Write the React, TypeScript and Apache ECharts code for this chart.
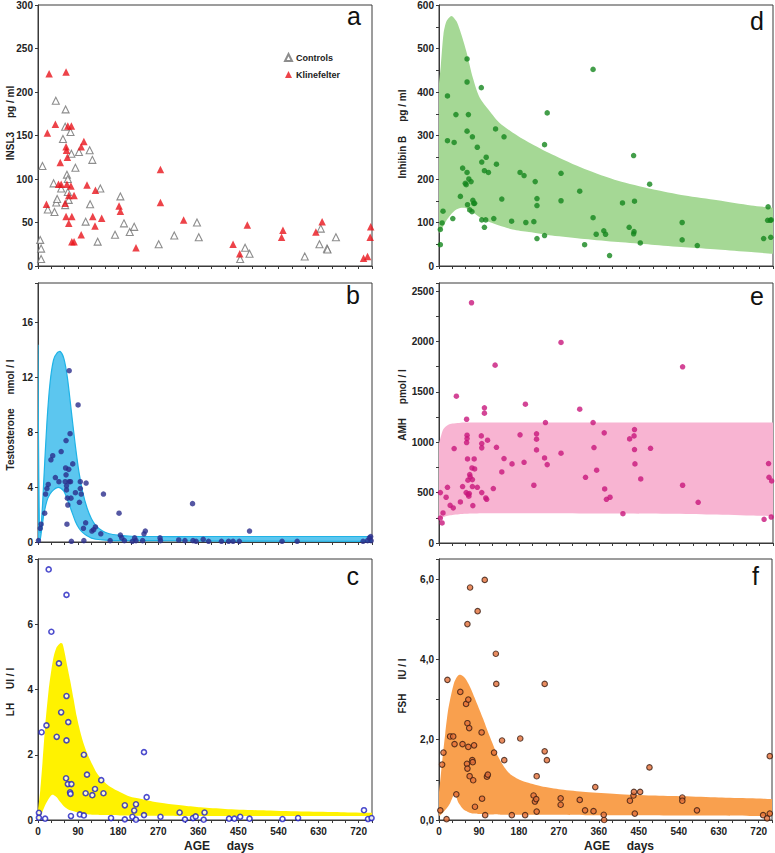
import React, { useEffect, useRef } from "react";
import * as echarts from "echarts";

const FONT = "'Liberation Sans', Arial, sans-serif";
const X_MAX = 750;

// ---- Panel a: INSL3 (pg/ml)
const insl3Controls: number[][] = [
  [5, 30], [7, 20], [7, 8], [10, 115], [22, 65], [35, 95], [37, 62], [40, 190], [41, 73], [43, 77],
  [52, 89], [56, 146], [62, 180], [61, 160], [61, 70], [65, 105], [67, 100], [67, 85], [69, 76], [73, 154],
  [75, 129], [84, 113], [92, 131], [107, 51], [116, 133], [117, 71], [122, 122], [134, 28], [140, 89], [173, 36],
  [185, 80], [193, 49], [206, 39], [216, 45], [271, 25], [306, 35], [357, 50], [361, 33], [454, 8], [465, 21],
  [475, 14], [599, 11], [632, 25], [635, 43], [649, 20], [650, 19], [669, 33],
];
const insl3Klinefelter: number[][] = [
  [19, 71], [21, 153], [25, 221], [39, 163], [46, 94], [50, 119], [52, 94], [61, 72], [63, 57], [63, 223],
  [63, 137], [64, 133], [65, 94], [66, 125], [67, 161], [69, 81], [69, 49], [75, 161], [74, 92], [76, 57],
  [76, 28], [81, 81], [81, 28], [97, 137], [103, 143], [97, 36], [110, 93], [123, 57], [128, 46], [129, 87],
  [143, 55], [182, 69], [185, 63], [220, 21], [275, 111], [275, 73], [327, 53], [438, 25], [453, 14], [470, 47],
  [547, 33], [550, 41], [624, 39], [638, 51], [731, 9], [740, 11], [746, 33], [747, 45],
];

// ---- Panel b: Testosterone (nmol/l)
const testosterone: number[][] = [
  [1, 0.1], [5, 1.0], [7, 1.3], [15, 2.1], [17, 3.5], [20, 3.9], [23, 4.2], [29, 6.0], [33, 6.3], [39, 4.7],
  [47, 4.4], [52, 6.6], [63, 7.4], [62, 5.4], [63, 4.9], [61, 4.4], [64, 4.1], [64, 3.8], [66, 3.2], [67, 2.7],
  [65, 1.3], [70, 12.5], [69, 5.3], [70, 4.4], [72, 7.9], [73, 4.4], [74, 3.2], [75, 0.05], [78, 5.7], [84, 3.6],
  [90, 10.0], [93, 2.9], [95, 4.4], [95, 3.9], [97, 3.5], [102, 1.0], [103, 0.1], [107, 1.4], [108, 4.3], [121, 0.8],
  [125, 0.9], [129, 1.1], [141, 0.6], [147, 3.5], [162, 0.1], [182, 2.1], [185, 0.5], [188, 0.3], [194, 0.1], [212, 0.05],
  [217, 0.3], [220, 0.1], [235, 0.1], [238, 0.6], [241, 0.8], [274, 0.3], [275, 0.1], [316, 0.15], [330, 0.1], [347, 2.8],
  [348, 0.1], [355, 0.05], [371, 0.2], [383, 0.05], [412, 0.05], [428, 0.05], [438, 0.05], [452, 0.05], [475, 0.8], [548, 0.05],
  [582, 0.05], [730, 0.05], [740, 0.1], [744, 0.3], [747, 0.4], [748, 0.1],
];
const tBandDays = [0, 1, 3, 5, 7, 10, 13, 20, 27, 35, 43, 50, 58, 66, 75, 84, 92, 100, 110, 120, 130, 145, 160, 180, 210, 260, 350, 500, 750];
const tBandHi = [14.4, 8, 1.5, 0.7, 1.2, 2.6, 4.5, 8.7, 11.6, 13.3, 13.8, 13.9, 13.4, 12.0, 9.5, 7.0, 5.1, 3.7, 2.5, 1.7, 1.2, 0.8, 0.6, 0.5, 0.42, 0.4, 0.4, 0.4, 0.4];
const tBandLo = [0, 0, 0.1, 0.2, 0.6, 1.3, 2.0, 3.0, 3.5, 3.8, 3.97, 3.95, 3.7, 3.1, 2.3, 1.5, 1.0, 0.7, 0.45, 0.28, 0.2, 0.15, 0.12, 0.1, 0.1, 0.1, 0.08, 0.06, 0.05];

// ---- Panel c: LH (UI/l)
const lh: number[][] = [
  [2, 0.22], [2, 0.07], [8, 2.69], [16, 0.04], [19, 2.9], [24, 7.68], [30, 5.77], [42, 2.55], [47, 4.8], [52, 3.3],
  [64, 6.9], [64, 3.8], [64, 2.44], [63, 1.28], [67, 1.1], [68, 3.0], [72, 0.85], [73, 0.8], [75, 1.1], [74, 0.12],
  [94, 0.17], [103, 0.14], [103, 2.0], [107, 0.82], [110, 1.39], [122, 0.76], [128, 0.95], [142, 1.22], [147, 0.82], [164, 0.06],
  [195, 0.45], [195, 0.02], [212, 0.1], [216, 0.29], [220, 0.48], [220, 0.01], [238, 2.08], [238, 0.15], [244, 0.7], [275, 0.1],
  [318, 0.23], [330, 0.02], [348, 0.06], [354, 0.11], [372, 0.01], [374, 0.23], [429, 0.04], [441, 0.04], [454, 0.1], [475, 0.04],
  [549, 0.03], [584, 0.06], [732, 0.3], [741, 0.03], [749, 0.06],
];
const lhBandDays = [0, 5, 10, 16, 24, 30, 35, 42, 50, 55, 60, 66, 72, 80, 87, 95, 102, 110, 117, 125, 132, 145, 162, 185, 206, 230, 260, 290, 330, 365, 420, 513, 600, 680, 750];
const lhBandHi = [0.3, 0.9, 1.75, 2.86, 4.0, 4.6, 5.0, 5.3, 5.42, 5.4, 5.12, 4.7, 4.29, 3.7, 3.17, 2.7, 2.36, 2.05, 1.84, 1.62, 1.44, 1.22, 1.02, 0.85, 0.72, 0.65, 0.56, 0.5, 0.44, 0.39, 0.34, 0.29, 0.26, 0.24, 0.22];
const lhBandLo = [0, 0.08, 0.25, 0.45, 0.65, 0.76, 0.77, 0.7, 0.55, 0.47, 0.4, 0.34, 0.3, 0.27, 0.24, 0.21, 0.19, 0.18, 0.17, 0.16, 0.16, 0.15, 0.15, 0.14, 0.14, 0.13, 0.13, 0.13, 0.12, 0.12, 0.12, 0.12, 0.12, 0.12, 0.12];

// ---- Panel d: Inhibin B (pg/ml)
const inhibinB: number[][] = [
  [3, 49], [3, 84], [7, 99], [9, 126], [19, 391], [19, 288], [31, 109], [34, 284], [38, 348], [48, 160],
  [53, 225], [59, 190], [61, 187], [63, 476], [63, 423], [63, 310], [63, 215], [64, 141], [66, 348], [67, 200],
  [69, 129], [72, 194], [74, 125], [75, 297], [76, 151], [78, 144], [80, 144], [86, 273], [95, 410], [96, 239],
  [96, 106], [102, 219], [102, 89], [105, 106], [106, 250], [111, 215], [123, 109], [127, 315], [129, 234], [141, 154],
  [146, 297], [163, 103], [182, 215], [191, 208], [195, 100], [213, 102], [216, 194], [220, 139], [220, 155], [220, 63],
  [237, 279], [237, 70], [243, 352], [274, 213], [274, 150], [316, 172], [327, 49], [346, 452], [346, 111], [353, 73],
  [370, 81], [374, 73], [383, 24], [412, 145], [427, 89], [437, 254], [439, 149], [438, 79], [437, 74], [452, 53],
  [473, 188], [546, 100], [546, 60], [580, 47], [729, 63], [738, 105], [739, 136], [744, 105], [745, 66], [746, 106],
];
const ibBandDays = [0, 4, 10, 17, 28, 39, 50, 61, 76, 91, 113, 135, 165, 202, 253, 327, 402, 477, 552, 626, 701, 750];
const ibBandHi = [420, 460, 533, 563, 575, 563, 533, 495, 433, 388, 357, 330, 307, 284, 257, 223, 196, 177, 162, 151, 139, 134];
const ibBandLo = [75, 82, 92, 105, 120, 130, 134, 133, 124, 112, 101, 93, 84, 78, 70, 62, 55, 49, 43, 38, 32, 28];

// ---- Panel e: AMH (pmol/l)
const amh: number[][] = [
  [3, 500], [3, 248], [7, 199], [9, 298], [16, 454], [19, 553], [25, 374], [32, 348], [34, 937], [39, 1457],
  [48, 407], [53, 560], [61, 500], [62, 1228], [63, 1070], [63, 1036], [62, 997], [64, 834], [65, 623], [65, 483],
  [67, 464], [68, 490], [69, 679], [70, 656], [73, 2384], [74, 745], [75, 629], [75, 560], [76, 371], [79, 834],
  [80, 735], [86, 553], [95, 1063], [96, 987], [96, 944], [96, 500], [102, 1341], [102, 1288], [105, 447], [107, 434],
  [109, 1020], [122, 540], [126, 1765], [129, 950], [141, 705], [146, 838], [164, 785], [182, 1073], [191, 801], [194, 1377],
  [213, 573], [219, 924], [219, 1083], [219, 1030], [237, 844], [239, 1195], [243, 778], [274, 1990], [274, 891], [316, 1328],
  [329, 652], [346, 1195], [348, 947], [354, 722], [371, 1093], [372, 536], [376, 434], [384, 454], [413, 291], [428, 1033],
  [438, 1063], [439, 1126], [439, 927], [440, 785], [453, 636], [475, 940], [547, 1748], [547, 573], [582, 404], [730, 235],
  [740, 788], [741, 652], [747, 616], [746, 258],
];
const amhBandDays = [0, 5, 10, 20, 30, 45, 60, 100, 200, 400, 600, 700, 750];
const amhBandHi = [990, 1070, 1130, 1170, 1185, 1192, 1195, 1195, 1195, 1195, 1195, 1195, 1195];
const amhBandLo = [225, 245, 258, 270, 278, 285, 290, 295, 295, 292, 284, 274, 268];

// ---- Panel f: FSH (IU/l)
const fsh: number[][] = [
  [3, 0.24], [7, 1.38], [10, 1.68], [17, 0.02], [19, 3.49], [25, 2.08], [32, 2.08], [35, 1.89], [39, 0.64], [48, 3.19],
  [53, 1.89], [61, 2.89], [63, 1.4], [64, 1.28], [64, 2.41], [64, 4.88], [66, 1.82], [66, 3.0], [68, 2.29], [69, 1.09],
  [70, 5.79], [75, 1.49], [76, 1.44], [77, 0.99], [79, 1.86], [81, 0.33], [87, 5.2], [96, 2.18], [97, 0.53], [103, 5.98],
  [104, 0.12], [108, 1.08], [110, 1.13], [124, 1.68], [128, 4.14], [129, 3.39], [142, 1.98], [147, 1.49], [164, 0.12], [183, 2.03],
  [194, 0.12], [213, 0.61], [216, 0.46], [219, 0.52], [220, 1.09], [220, 0.21], [238, 3.39], [238, 1.71], [243, 1.49], [274, 0.54],
  [274, 0.38], [317, 0.5], [329, 0.24], [348, 0.22], [352, 0.82], [371, 0.13], [372, 0.0], [430, 0.48], [438, 0.61], [439, 0.7],
  [441, 0.16], [453, 0.7], [474, 1.31], [548, 0.56], [548, 0.48], [581, 0.24], [730, 0.12], [739, 0.04], [745, 1.59], [745, 0.16],
];
const fshBandDays = [0, 3, 6, 10, 14, 20, 25, 30, 34, 38, 43, 47, 52, 58, 65, 73, 80, 88, 100, 111, 122, 133, 145, 155, 163, 178, 193, 230, 275, 330, 400, 480, 550, 630, 700, 750];
const fshBandHi = [0.7, 1.0, 1.34, 1.75, 2.15, 2.7, 3.0, 3.25, 3.42, 3.52, 3.6, 3.62, 3.6, 3.54, 3.42, 3.24, 3.05, 2.83, 2.5, 2.17, 1.87, 1.58, 1.35, 1.2, 1.12, 1.02, 0.95, 0.84, 0.76, 0.7, 0.65, 0.61, 0.59, 0.56, 0.54, 0.52];
const fshBandLo = [0.1, 0.12, 0.15, 0.2, 0.25, 0.33, 0.42, 0.55, 0.62, 0.6, 0.45, 0.38, 0.3, 0.24, 0.2, 0.17, 0.16, 0.15, 0.15, 0.14, 0.14, 0.14, 0.13, 0.13, 0.13, 0.13, 0.13, 0.13, 0.13, 0.12, 0.12, 0.12, 0.11, 0.11, 0.1, 0.1];

const grids = [
  { left: 38, top: 5, width: 334, height: 261 },
  { left: 38, top: 283, width: 334, height: 259 },
  { left: 38, top: 559, width: 334, height: 261 },
  { left: 439, top: 4, width: 334, height: 262 },
  { left: 439, top: 283, width: 334, height: 260 },
  { left: 439, top: 559, width: 334, height: 261 },
];

const AX = "#3a3a3a";

function xAxisFor(gridIndex: number, showLabels: boolean) {
  return {
    type: "value",
    gridIndex,
    min: 0,
    max: X_MAX,
    interval: 30,
    axisLine: { show: true, onZero: false, lineStyle: { color: AX, width: 1 } },
    axisTick: { show: true, length: 3, lineStyle: { color: AX } },
    splitLine: { show: false },
    axisLabel: {
      show: showLabels,
      margin: 6,
      fontFamily: FONT,
      fontSize: 10,
      fontWeight: "bold",
      color: "#222",
      formatter: (v: number) => (v % 90 === 0 && v <= 720 ? String(v) : ""),
    },
  };
}

function yAxisFor(gridIndex: number, max: number, interval: number, labelEvery: number, fmt?: (v: number) => string) {
  return {
    type: "value",
    gridIndex,
    min: 0,
    max,
    interval,
    axisLine: { show: true, onZero: false, lineStyle: { color: AX, width: 1 } },
    axisTick: { show: true, length: 3, lineStyle: { color: AX } },
    splitLine: { show: false },
    axisLabel: {
      margin: 5,
      fontFamily: FONT,
      fontSize: 10,
      fontWeight: "bold",
      color: "#222",
      formatter: (v: number) => {
        const r = Math.round(v / labelEvery) * labelEvery;
        if (Math.abs(r - v) > 1e-6) return "";
        return fmt ? fmt(v) : String(v);
      },
    },
  };
}

function band(idx: number, days: number[], lo: number[], hi: number[], fill: string, stroke?: string) {
  return {
    type: "custom",
    xAxisIndex: idx,
    yAxisIndex: idx,
    silent: true,
    clip: true,
    z: 1,
    data: days.map((d, i) => [d, lo[i], hi[i]]),
    encode: { x: 0, y: [1, 2] },
    renderItem: (params: any, api: any) => {
      if (params.dataIndex !== 0) return null;
      const top = days.map((d, i) => api.coord([d, hi[i]]));
      const bot = days.map((d, i) => api.coord([d, lo[i]])).reverse();
      // duplicate the corner points so the closing edges stay sharp
      const pts = [top[0], ...top, top[top.length - 1], bot[0], ...bot, bot[bot.length - 1]];
      return {
        type: "polygon",
        shape: { points: pts, smooth: 0.25 },
        style: { fill, stroke: stroke || "none", lineWidth: stroke ? 1.2 : 0 },
      };
    },
  };
}

function scatter(idx: number, name: string, data: number[][], symbol: string, size: number, itemStyle: any) {
  return {
    type: "scatter",
    name,
    xAxisIndex: idx,
    yAxisIndex: idx,
    data,
    symbol,
    symbolSize: size,
    itemStyle,
    z: 3,
  };
}

const letters = [
  { t: "a", x: 361, y: 28 },
  { t: "b", x: 360, y: 307 },
  { t: "c", x: 359, y: 588 },
  { t: "d", x: 764, y: 33 },
  { t: "e", x: 764, y: 308 },
  { t: "f", x: 759, y: 588 },
];

const NB = "\u00a0\u00a0\u00a0\u00a0\u00a0";
const yNames = [
  { t: "INSL3" + NB + "pg / ml", x: 10, y: 123 },
  { t: "Testosterone" + NB + "nmol / l", x: 10, y: 415 },
  { t: "LH" + NB + "UI / l", x: 10, y: 692 },
  { t: "Inhibin B" + NB + "pg / ml", x: 402, y: 134 },
  { t: "AMH" + NB + "pmol / l", x: 402, y: 405 },
  { t: "FSH" + NB + "IU / l", x: 402, y: 686 },
];

export default function App() {
  const ref = useRef<HTMLDivElement>(null);
  useEffect(() => {
    if (!ref.current) return;
    const chart = echarts.init(ref.current, undefined, { renderer: "svg" });
    const graphics: any[] = [];
    letters.forEach((l) =>
      graphics.push({
        type: "text",
        x: l.x,
        y: l.y,
        style: { text: l.t, fontFamily: FONT, fontSize: 25, fill: "#111", textAlign: "right", textVerticalAlign: "bottom" },
      })
    );
    yNames.forEach((n) =>
      graphics.push({
        type: "text",
        x: n.x,
        y: n.y,
        rotation: Math.PI / 2,
        style: { text: n.t, fontFamily: FONT, fontSize: 10, fontWeight: "bold", fill: "#222", textAlign: "center", textVerticalAlign: "middle" },
      })
    );
    [{ x: 219, y: 846 }, { x: 619, y: 846 }].forEach((p) =>
      graphics.push({
        type: "text",
        x: p.x,
        y: p.y,
        style: { text: "AGE" + NB + "days", fontFamily: FONT, fontSize: 12, fontWeight: "bold", fill: "#222", textAlign: "center", textVerticalAlign: "middle" },
      })
    );

    chart.setOption({
      animation: false,
      backgroundColor: "#fff",
      grid: grids.map((g) => ({ ...g, show: true, borderColor: AX, borderWidth: 1, backgroundColor: "transparent" })),
      xAxis: [0, 1, 2, 3, 4, 5].map((i) => xAxisFor(i, i === 2 || i === 5)),
      yAxis: [
        yAxisFor(0, 300, 50, 50),
        yAxisFor(1, 18.9, 4, 4),
        yAxisFor(2, 8, 2, 2),
        yAxisFor(3, 600, 50, 100),
        yAxisFor(4, 2580, 250, 500),
        yAxisFor(5, 6.5, 1, 2, (v) => v.toFixed(1).replace(".", ",")),
      ],
      legend: {
        data: ["Controls", "Klinefelter"],
        orient: "vertical",
        left: 279,
        top: 48,
        itemWidth: 7,
        itemHeight: 7,
        itemGap: 8,
        textStyle: { fontFamily: FONT, fontSize: 9, fontWeight: "bold", color: "#222", padding: [0, 0, 0, -1] },
      },
      graphic: graphics,
      series: [
        scatter(0, "Controls", insl3Controls, "triangle", 7, { color: "#fff", borderColor: "#707070", borderWidth: 1.1 }),
        scatter(0, "Klinefelter", insl3Klinefelter, "triangle", 7.5, { color: "#e8141c" }),
        band(1, tBandDays, tBandLo, tBandHi, "#5cc6ef", "#1fb3e6"),
        scatter(1, "Testosterone", testosterone, "circle", 5.5, { color: "#2b2d8c" }),
        band(2, lhBandDays, lhBandLo, lhBandHi, "#fff200"),
        scatter(2, "LH", lh, "circle", 5, { color: "#fff", borderColor: "#1f1fc0", borderWidth: 1.6 }),
        band(3, ibBandDays, ibBandLo, ibBandHi, "#a5d895"),
        scatter(3, "Inhibin B", inhibinB, "circle", 5.5, { color: "#14861d" }),
        band(4, amhBandDays, amhBandLo, amhBandHi, "#f8b4d2"),
        scatter(4, "AMH", amh, "circle", 5.5, { color: "#c8167c" }),
        band(5, fshBandDays, fshBandLo, fshBandHi, "#f9a04e"),
        scatter(5, "FSH", fsh, "circle", 5.5, { color: "#e3703a", borderColor: "#3a1c10", borderWidth: 1.1 }),
      ],
    });
    return () => chart.dispose();
  }, []);
  return <div ref={ref} style={{ position: "absolute", left: 0, top: 0, width: 775, height: 853 }} />;
}
